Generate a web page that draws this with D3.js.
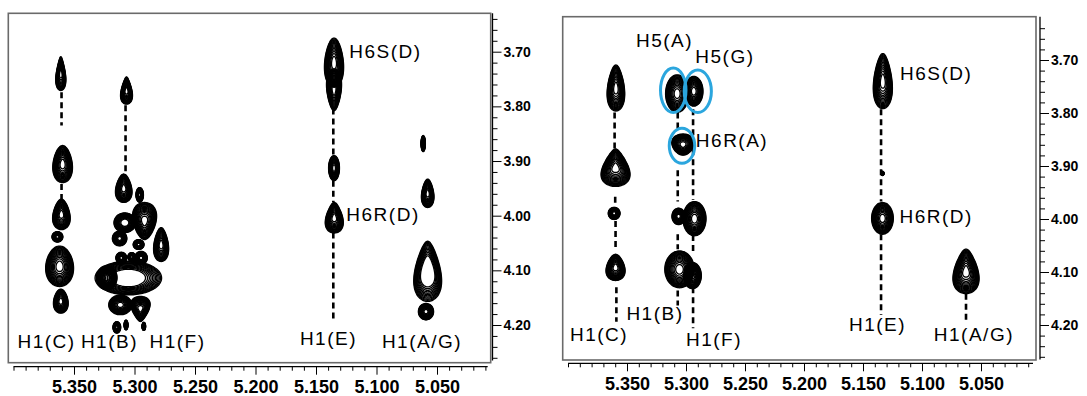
<!DOCTYPE html>
<html>
<head>
<meta charset="utf-8">
<script src="https://cdn.jsdelivr.net/npm/d3@7"></script>
<style>
  body { margin: 0; background: #fff; }
  .tick text { font-family: "Liberation Sans", Arial, sans-serif; font-weight: bold; fill: #000; }
  .lbl { font-family: "Liberation Sans", Arial, sans-serif; font-size: 19px; letter-spacing: 1.5px; fill: #000; }
</style>
</head>
<body>
<script>
// tick labels (ppm)
const xMajor = [5.35, 5.30, 5.25, 5.20, 5.15, 5.10, 5.05];
const yMajor = [3.70, 3.80, 3.90, 4.00, 4.10, 4.20];

// cross peaks: [x ppm, y ppm, half-width x, half-width y, tip, hole]
const peaksLeft = [
  [5.3609, 3.740, 0.0038, 0.031, 0.5, 0],
  [5.3594, 3.9055, 0.0080, 0.034, 0.2, 0],
  [5.3604, 3.9975, 0.0070, 0.028, 0.3, 0],
  [5.3637, 4.0387, 0.0045, 0.0095, 0, 0],
  [5.3619, 4.0926, 0.0115, 0.037, 0.1, 0],
  [5.3609, 4.1564, 0.0060, 0.022, 0.2, 0],
  [5.3066, 3.771, 0.0045, 0.025, 0.5, 0],
  [5.3089, 3.9497, 0.0066, 0.026, 0.3, 0],
  [5.2957, 3.962, 0.0031, 0.0135, 0, 0],
  [5.3080, 4.0129, 0.0090, 0.018, 0, 0.3],
  [5.2917, 4.0098, 0.0096, 0.034, -0.3, 0],
  [5.3123, 4.0417, 0.0060, 0.0135, 0, 0],
  [5.2966, 4.0528, 0.0045, 0.009, 0, 0],
  [5.2780, 4.0528, 0.0060, 0.031, 0.3, 0],
  [5.3109, 4.0773, 0.0045, 0.0104, 0, 0],
  [5.3023, 4.0755, 0.0032, 0.008, 0, 0],
  [5.2946, 4.0773, 0.0052, 0.012, 0, 0],
  [5.3051, 4.1140, 0.0275, 0.031, 0, 0.5],
  [5.3229, 4.1135, 0.0085, 0.022, 0, 0],
  [5.3117, 4.1632, 0.0096, 0.018, 0, 0],
  [5.2951, 4.1706, 0.0073, 0.023, -0.5, 0],
  [5.3146, 4.2043, 0.0032, 0.0105, 0, 0],
  [5.2923, 4.2025, 0.0015, 0.0075, 0, 0],
  [5.3070, 4.2000, 0.0016, 0.009, 0, 0],
  [5.1351, 3.7200, 0.0078, 0.045, 0.2, 0],
  [5.1351, 3.7700, 0.0060, 0.038, -0.3, 0],
  [5.1351, 3.9130, 0.0045, 0.023, 0, 0],
  [5.1349, 4.0037, 0.0070, 0.028, 0.4, 0],
  [5.0614, 3.8680, 0.0018, 0.0147, 0, 0],
  [5.0577, 3.9590, 0.0050, 0.026, 0.3, 0],
  [5.0577, 4.1018, 0.0108, 0.055, 0.4, 0.45],
  [5.0591, 4.1755, 0.0063, 0.015, 0, 0]
];
const peaksRight = [
  [5.3594, 3.7528, 0.0072, 0.0435, 0.3, 0],
  [5.3597, 3.9031, 0.0112, 0.0354, 0.5, 0],
  [5.3609, 3.9894, 0.0050, 0.0115, 0, 0],
  [5.3597, 4.0913, 0.0078, 0.0248, 0.3, 0],
  [5.3075, 3.7634, 0.0098, 0.0354, 0, 0],
  [5.2934, 3.7590, 0.0078, 0.028, 0, 0],
  [5.3025, 3.8596, 0.0094, 0.020, -0.2, 0],
  [5.3063, 3.9950, 0.0056, 0.0155, 0, 0],
  [5.2928, 3.9994, 0.0098, 0.0323, 0, 0],
  [5.3055, 4.0950, 0.0125, 0.0348, 0, 0],
  [5.2945, 4.1068, 0.0075, 0.0248, 0, 0],
  [5.1332, 3.7398, 0.0078, 0.052, 0.3, 0],
  [5.1335, 3.9140, 0.0013, 0.004, 0, 0],
  [5.1335, 3.9988, 0.0092, 0.030, 0, 0],
  [5.0627, 4.0988, 0.0104, 0.042, 0.4, 0]
];

// dashed connectors: [x ppm, y from, y to]
const dashesLeft = [
  [5.3603, 3.774, 3.835], [5.3603, 3.942, 3.970],
  [5.3074, 3.798, 3.921],
  [5.1357, 3.804, 3.890], [5.1357, 3.936, 3.976], [5.1357, 4.031, 4.191]
];
const dashesRight = [
  [5.3605, 3.799, 3.868], [5.3600, 3.958, 3.976], [5.3597, 4.004, 4.057], [5.3590, 4.129, 4.194],
  [5.3070, 3.799, 3.830], [5.3070, 3.908, 3.967], [5.3070, 4.029, 4.057], [5.3070, 4.135, 4.163],
  [5.2940, 3.793, 3.964], [5.2940, 4.030, 4.066], [5.2940, 4.129, 4.206],
  [5.1347, 3.793, 3.967], [5.1347, 4.029, 4.181],
  [5.0627, 4.141, 4.197]
];

// assignments: [text, x ppm (centre), y ppm (baseline)]
const labelsLeft = [
  ["H1(C)", 5.3727, 4.242], ["H1(B)", 5.3207, 4.242], ["H1(F)", 5.2645, 4.242],
  ["H1(E)", 5.1397, 4.2366], ["H1(A/G)", 5.0624, 4.242],
  ["H6S(D)", 5.0926, 3.711], ["H6R(D)", 5.0946, 4.0097]
];
const labelsRight = [
  ["H5(A)", 5.3182, 3.675], ["H5(G)", 5.2670, 3.706], ["H6R(A)", 5.2610, 3.864],
  ["H6S(D)", 5.0880, 3.7385], ["H6R(D)", 5.0880, 4.007],
  ["H1(B)", 5.3263, 4.1906], ["H1(C)", 5.3737, 4.230], ["H1(F)", 5.2763, 4.2396],
  ["H1(E)", 5.1377, 4.2113], ["H1(A/G)", 5.0560, 4.230]
];

// highlighted peaks: [x ppm, y ppm, half-width x, half-width y]
const circlesRight = [
  [5.3108, 3.757, 0.0108, 0.042],
  [5.2900, 3.759, 0.0115, 0.040],
  [5.3034, 3.862, 0.0108, 0.033]
];

const svg = d3.select("body").append("svg")
  .attr("width", 1087).attr("height", 396);

function shapePath(cx, cy, rx, ry, tip) {
  const pts = d3.range(64).map(i => {
    const t = i / 64 * 2 * Math.PI;
    return [cx + rx * Math.sin(t) * (1 - tip * Math.cos(t)), cy - ry * Math.cos(t)];
  });
  return d3.line().curve(d3.curveCardinalClosed)(pts);
}

function drawPanel(p) {
  const x = d3.scaleLinear().domain([5.35, 5.05]).range(p.xr);
  const y = d3.scaleLinear().domain([3.70, 4.20]).range(p.yr);
  const g = svg.append("g");

  // frame
  g.append("rect")
    .attr("x", p.frame[0]).attr("y", p.frame[1])
    .attr("width", p.frame[2] - p.frame[0]).attr("height", p.frame[3] - p.frame[1])
    .attr("fill", "none").attr("stroke", "#6a6a6a").attr("stroke-width", 1.6);

  // dashed lines
  g.selectAll(".dash").data(p.dashes).join("line")
    .attr("x1", d => x(d[0])).attr("x2", d => x(d[0]))
    .attr("y1", d => y(d[1])).attr("y2", d => y(d[2]))
    .attr("stroke", "#000").attr("stroke-width", 2.6)
    .attr("stroke-dasharray", "6,4");

  // contour peaks
  const n = 15;
  p.peaks.forEach(d => {
    const cx = x(d[0]), cy = y(d[1]);
    const rx = Math.abs(x(d[0] + d[2]) - cx), ry = Math.abs(y(d[1] + d[3]) - cy);
    const rings = d3.range(n).map(k => Math.sqrt(1 - k / n)).filter(s => s >= d[5]);
    g.append("g").selectAll("path").data(rings).join("path")
      .attr("d", s => shapePath(cx, cy, rx * s, ry * s, d[4]))
      .attr("fill", "none").attr("stroke", "#000").attr("stroke-width", 1.3);
  });

  // blue highlight circles
  g.selectAll(".hl").data(p.circles).join("ellipse")
    .attr("cx", d => x(d[0])).attr("cy", d => y(d[1]))
    .attr("rx", d => Math.abs(x(d[0] + d[2]) - x(d[0])))
    .attr("ry", d => Math.abs(y(d[1] + d[3]) - y(d[1])))
    .attr("fill", "none").attr("stroke", "#2ba6de").attr("stroke-width", 3);

  // labels
  g.selectAll(".lbl").data(p.labels).join("text")
    .attr("class", "lbl")
    .attr("x", d => x(d[1])).attr("y", d => y(d[2]))
    .attr("text-anchor", "middle")
    .text(d => d[0]);

  // x axis (bottom, reversed ppm)
  const xMinor = d3.range(0, 40).map(i => +(5.40 - i * 0.01).toFixed(2))
    .filter(v => !xMajor.some(m => Math.abs(m - v) < 1e-6));
  const xa = g.append("g").attr("transform", `translate(0,${p.xAxisY})`);
  xa.append("line").attr("x1", x(5.40)).attr("x2", p.frame[2] - 3)
    .attr("stroke", "#000").attr("stroke-width", 1.3);
  xa.append("g").call(d3.axisBottom(x).tickValues(xMinor).tickSize(4).tickFormat(""))
    .call(a => a.select(".domain").remove());
  xa.append("g").call(d3.axisBottom(x).tickValues(xMajor).tickSize(8).tickPadding(6)
      .tickFormat(d3.format(".3f")))
    .call(a => a.select(".domain").remove())
    .call(a => a.selectAll("text").style("font-size", "18px"));

  // y axis (right side)
  const yMinor = d3.range(0, 32).map(i => +(3.64 + i * 0.02).toFixed(2))
    .filter(v => !yMajor.some(m => Math.abs(m - v) < 1e-6));
  const ya = g.append("g").attr("transform", `translate(${p.yAxisX},0)`);
  ya.append("line").attr("y1", p.frame[1]).attr("y2", y(4.265))
    .attr("stroke", "#000").attr("stroke-width", 1.3);
  ya.append("g").call(d3.axisRight(y).tickValues(yMinor).tickSize(5).tickFormat(""))
    .call(a => a.select(".domain").remove());
  ya.append("g").call(d3.axisRight(y).tickValues(yMajor).tickSize(9).tickPadding(2)
      .tickFormat(d3.format(".2f")))
    .call(a => a.select(".domain").remove())
    .call(a => a.selectAll("text").style("font-size", "14px"));
}

drawPanel({
  xr: [74, 437], yr: [51.7, 325],
  frame: [8.3, 13.3, 490.7, 362.7],
  xAxisY: 366.7, yAxisX: 492.5,
  peaks: peaksLeft, dashes: dashesLeft, labels: labelsLeft, circles: []
});
drawPanel({
  xr: [627, 981], yr: [60, 325],
  frame: [562.7, 16.7, 1036, 360],
  xAxisY: 363.3, yAxisX: 1040,
  peaks: peaksRight, dashes: dashesRight, labels: labelsRight, circles: circlesRight
});
</script>
</body>
</html>
